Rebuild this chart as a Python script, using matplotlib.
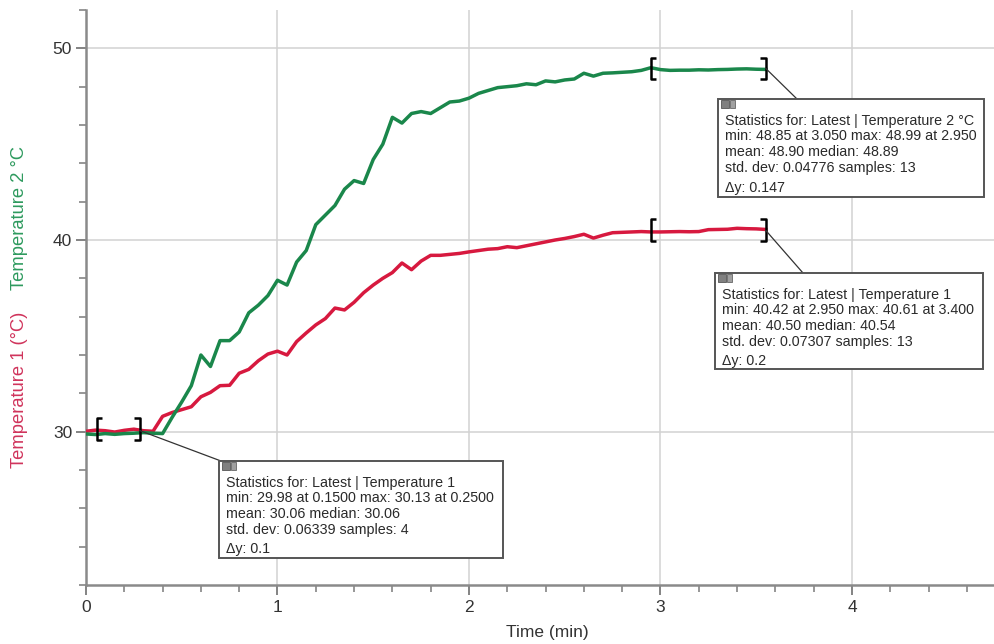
import matplotlib
matplotlib.use('Agg')
import matplotlib.pyplot as plt
from matplotlib.ticker import MultipleLocator
from matplotlib.patches import Rectangle, ConnectionPatch

# ---------------- data ----------------
time_min = [0.00, 0.05, 0.10, 0.15, 0.20, 0.25, 0.30, 0.35,
            0.40, 0.45, 0.50, 0.55, 0.60, 0.65, 0.70, 0.75,
            0.80, 0.85, 0.90, 0.95, 1.00, 1.05, 1.10, 1.15,
            1.20, 1.25, 1.30, 1.35, 1.40, 1.45, 1.50, 1.55,
            1.60, 1.65, 1.70, 1.75, 1.80, 1.85, 1.90, 1.95,
            2.00, 2.05, 2.10, 2.15, 2.20, 2.25, 2.30, 2.35,
            2.40, 2.45, 2.50, 2.55, 2.60, 2.65, 2.70, 2.75,
            2.80, 2.85, 2.90, 2.95, 3.00, 3.05, 3.10, 3.15,
            3.20, 3.25, 3.30, 3.35, 3.40, 3.45, 3.50, 3.55]

temp1 = [30.02, 30.08, 30.05, 29.98, 30.07, 30.13, 30.05, 30.02,
         30.80, 31.00, 31.15, 31.30, 31.82, 32.05, 32.40, 32.42,
         33.05, 33.25, 33.70, 34.05, 34.20, 34.00, 34.70, 35.15,
         35.57, 35.90, 36.45, 36.35, 36.75, 37.25, 37.65, 38.00,
         38.30, 38.80, 38.45, 38.90, 39.20, 39.20, 39.25, 39.30,
         39.38, 39.45, 39.52, 39.55, 39.65, 39.60, 39.70, 39.80,
         39.90, 40.00, 40.08, 40.18, 40.30, 40.10, 40.25, 40.38,
         40.40, 40.42, 40.44, 40.42, 40.42, 40.43, 40.44, 40.43,
         40.44, 40.54, 40.55, 40.56, 40.61, 40.59, 40.58, 40.55]

temp2 = [29.88, 29.85, 29.90, 29.86, 29.90, 29.92, 29.95, 29.92,
         29.90, 30.75, 31.55, 32.40, 34.00, 33.40, 34.75, 34.75,
         35.20, 36.20, 36.60, 37.10, 37.90, 37.65, 38.85, 39.45,
         40.80, 41.30, 41.80, 42.65, 43.10, 42.95, 44.20, 45.00,
         46.40, 46.10, 46.60, 46.70, 46.60, 46.90, 47.20, 47.25,
         47.40, 47.65, 47.80, 47.95, 48.00, 48.05, 48.15, 48.10,
         48.30, 48.25, 48.35, 48.40, 48.70, 48.55, 48.70, 48.72,
         48.75, 48.78, 48.85, 48.99, 48.89, 48.85, 48.86, 48.86,
         48.88, 48.87, 48.89, 48.90, 48.92, 48.93, 48.91, 48.90]

x_ticks = [0, 1, 2, 3, 4]
y_ticks = [30, 40, 50]

# statistics regions (start, end) and centre levels
region_a = (0.057, 0.28)
region_b = (2.95, 3.55)
stat_a_level = 30.06
stat_b_level = 48.90
stat_c_level = 40.50

stats_a = ["Statistics for: Latest | Temperature 1",
           "min: 29.98 at 0.1500 max: 30.13 at 0.2500",
           "mean: 30.06 median: 30.06",
           "std. dev: 0.06339 samples: 4",
           "\u0394y: 0.1"]
stats_b = ["Statistics for: Latest | Temperature 2 \u00b0C",
           "min: 48.85 at 3.050 max: 48.99 at 2.950",
           "mean: 48.90 median: 48.89",
           "std. dev: 0.04776 samples: 13",
           "\u0394y: 0.147"]
stats_c = ["Statistics for: Latest | Temperature 1",
           "min: 40.42 at 2.950 max: 40.61 at 3.400",
           "mean: 40.50 median: 40.54",
           "std. dev: 0.07307 samples: 13",
           "\u0394y: 0.2"]

RED = '#D7193F'
GREEN = '#1A874B'
FONT = ['Liberation Sans', 'DejaVu Sans']

plt.rcParams['font.family'] = FONT

W, H = 995, 644
fig = plt.figure(figsize=(W / 100, H / 100), dpi=100)
ax = fig.add_axes([86 / W, 1 - 585 / H, (W - 86) / W, (585 - 10) / H])


def fx(px):
    return px / W


def fy(py):
    return 1 - py / H


ax.plot(time_min, temp1, color=RED, lw=2.5, solid_joinstyle='round', zorder=3)
ax.plot(time_min, temp2, color=GREEN, lw=2.5, solid_joinstyle='round', zorder=3)

ax.set_xlim(0, 4.747)
ax.set_ylim(22, 52)
ax.set_xticks(x_ticks)
ax.set_yticks(y_ticks)
ax.xaxis.set_minor_locator(MultipleLocator(0.2))
ax.yaxis.set_minor_locator(MultipleLocator(2))
ax.grid(which='major', color='#d2d2d2', lw=1.1, zorder=0)
for s in ['top', 'right']:
    ax.spines[s].set_visible(False)
for s in ['left', 'bottom']:
    ax.spines[s].set_color('#8a8a8a')
    ax.spines[s].set_linewidth(1.8)
ax.tick_params(which='major', length=7, width=1.3, color='#7a7a7a',
               labelsize=12.5, labelcolor='#333333')
ax.tick_params(axis='y', which='major', pad=3)
ax.tick_params(axis='x', which='major', pad=4)
ax.tick_params(which='minor', length=5, width=1.1, color='#7a7a7a')

ax.set_xlabel('Time (min)', fontsize=12.5, color='#333333', labelpad=7)
ax.xaxis.set_label_coords((547 - 86) / (W - 86), -(632 - 585) / (585 - 10))
ax.xaxis.label.set_va('center')

fig.text(fx(20), fy(390), 'Temperature 1 (\u00b0C)', rotation=90, color='#D0345C',
         fontsize=13.2, ha='center', va='center')
fig.text(fx(20), fy(218), 'Temperature 2 \u00b0C', rotation=90, color='#2E9A5E',
         fontsize=13.2, ha='center', va='center')


def bracket(x0, x1, yc, half=0.57, serif=0.028):
    for xb, d in ((x0, 1), (x1, -1)):
        ax.plot([xb + d * serif, xb, xb, xb + d * serif],
                [yc + half, yc + half, yc - half, yc - half],
                color='black', lw=1.8, zorder=5, solid_capstyle='butt')


bracket(region_a[0], region_a[1], stat_a_level + 0.09)
bracket(region_b[0], region_b[1], stat_b_level + 0.05)
bracket(region_b[0], region_b[1], stat_c_level)


def stats_box(lines, box, anchor_xy, hit_px):
    left, top, right, bottom = box
    con = ConnectionPatch(xyA=anchor_xy, coordsA=ax.transData,
                          xyB=(fx(hit_px[0]), fy(hit_px[1])), coordsB=fig.transFigure,
                          color='#333333', lw=0.9, zorder=6)
    fig.add_artist(con)
    rect = Rectangle((fx(left), fy(bottom)), fx(right) - fx(left), fy(top) - fy(bottom),
                     transform=fig.transFigure, facecolor='white', edgecolor='#555555',
                     lw=1.4, zorder=7)
    fig.add_artist(rect)
    fig.add_artist(Rectangle((fx(left + 3), fy(top + 9)), fx(8), 8 / H,
                             transform=fig.transFigure, facecolor='#808080',
                             edgecolor='#555555', lw=0.6, zorder=8))
    fig.add_artist(Rectangle((fx(left + 12), fy(top + 9)), fx(5), 8 / H,
                             transform=fig.transFigure, facecolor='#a0a0a0',
                             edgecolor='#666666', lw=0.6, zorder=8))
    offs = [20, 35.8, 51.6, 67.4, 87]
    for line, o in zip(lines, offs):
        fig.text(fx(left + 7), fy(top + o), line, fontsize=10.25, color='#2a2a2a',
                 ha='left', va='center_baseline', zorder=9)


stats_box(stats_a, (219, 461, 503, 558), (region_a[1], stat_a_level), (221, 461))
stats_box(stats_b, (718, 99, 984, 197), (region_b[1], stat_b_level + 0.05), (797, 99))
stats_box(stats_c, (715, 273, 983, 369), (region_b[1], stat_c_level), (803, 273))

fig.savefig('out.png', dpi=100, facecolor='white')
